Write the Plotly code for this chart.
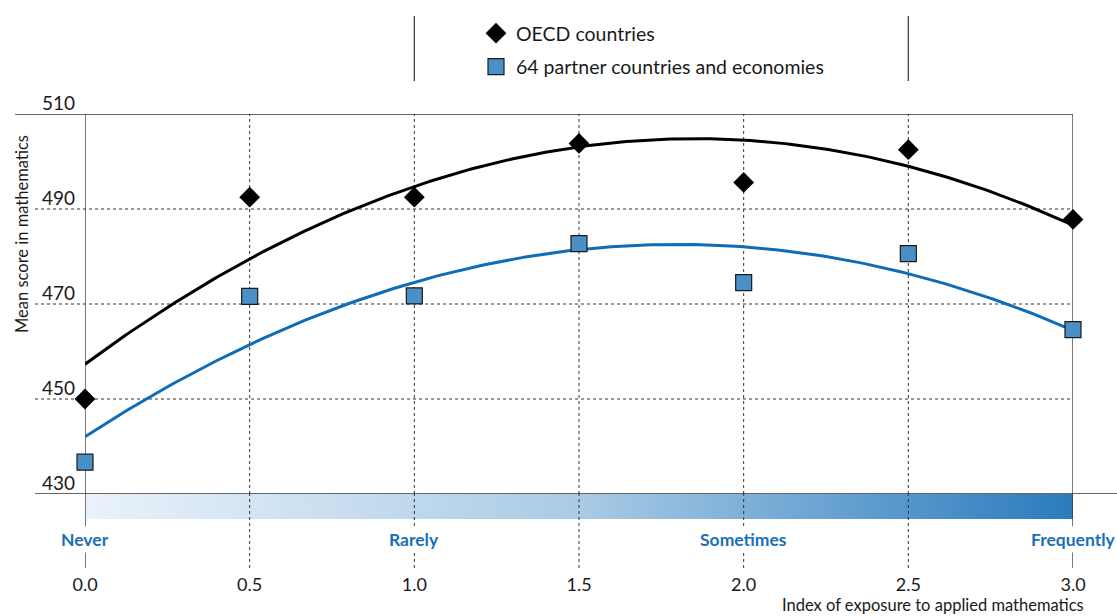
import numpy as np
import plotly.graph_objects as go

# Index of exposure to applied mathematics (x) and mean maths scores
exposure = [0.0, 0.5, 1.0, 1.5, 2.0, 2.5, 3.0]
oecd_scores = [450.0, 492.5, 492.5, 503.8, 495.6, 502.5, 487.8]
partner_scores = [436.7, 471.6, 471.7, 482.7, 474.5, 480.6, 464.6]

x_tick_vals = [0.0, 0.5, 1.0, 1.5, 2.0, 2.5, 3.0]
x_tick_text = ["0.0", "0.5", "1.0", "1.5", "2.0", "2.5", "3.0"]
y_tick_vals = [430, 450, 470, 490, 510]
frequency_labels = ["Never", "Rarely", "Sometimes", "Frequently"]
frequency_pos = [0.0, 1.0, 2.0, 3.0]

series_names = ["OECD countries", "64 partner countries and economies"]

FONT = "Lato"
TXT = "#1a1a1a"
GRID = "#333333"
BLUE_LINE = "#0f6cb6"
BLUE_FILL = "#4a90c6"
LABEL_BLUE = "#1a6fb5"

# canvas geometry (pixels)
W, H = 1117, 616
L, R, T, B = 85, 44, 114, 48
PH = H - T - B
PW = W - L - R


def py(p):
    return (H - B - p) / PH


def px(p):
    return (p - L) / PW


main_bottom = py(494)
bar_bottom = py(519)

# quadratic trend lines fitted to each series
grid_x = np.linspace(0, 3, 200)
oecd_fit = np.polyval(np.polyfit(exposure, oecd_scores, 2), grid_x)
partner_fit = np.polyval(np.polyfit(exposure, partner_scores, 2), grid_x)

fig = go.Figure()

# gradient band beneath the axis
fig.add_trace(go.Scatter(
    x=[0, 3, 3, 0, 0], y=[0, 0, 1, 1, 0], xaxis="x", yaxis="y2",
    mode="lines", line=dict(width=0), fill="toself",
    fillgradient=dict(type="horizontal", start=0, stop=3,
                      colorscale=[[0, "#eaf2fa"], [0.5, "#a9cbe6"], [1, "#2b7bbd"]]),
    showlegend=False, hoverinfo="skip",
))

fig.add_trace(go.Scatter(x=grid_x, y=oecd_fit, mode="lines",
                         line=dict(color="#000000", width=3),
                         showlegend=False, hoverinfo="skip"))
fig.add_trace(go.Scatter(x=grid_x, y=partner_fit, mode="lines",
                         line=dict(color=BLUE_LINE, width=3),
                         showlegend=False, hoverinfo="skip"))

fig.add_trace(go.Scatter(
    x=exposure, y=oecd_scores, mode="markers", name=series_names[0],
    legendgroup="a",
    marker=dict(symbol="diamond", size=16, color="#000000", line=dict(width=0)),
    cliponaxis=False,
))
fig.add_trace(go.Scatter(
    x=exposure, y=partner_scores, mode="markers", name=series_names[1],
    legendgroup="b",
    marker=dict(symbol="square", size=16, color=BLUE_FILL,
                line=dict(width=1.2, color="#1a1a1a")),
    cliponaxis=False,
))

shapes = []
# horizontal rules
shapes.append(dict(type="line", xref="paper", yref="y", x0=px(15), x1=1, y0=510, y1=510,
                   line=dict(color=GRID, width=1.3), layer="below"))
for v in [450, 470, 490]:
    shapes.append(dict(type="line", xref="paper", yref="y", x0=px(35), x1=1, y0=v, y1=v,
                       line=dict(color=GRID, width=1, dash="dot"), layer="below"))
shapes.append(dict(type="line", xref="paper", yref="y", x0=px(35), x1=px(W), y0=430, y1=430,
                   line=dict(color=GRID, width=1.3), layer="above"))

# vertical rules: solid at the ends, dotted in between
for v in x_tick_vals:
    solid = v in (0.0, 3.0)
    ln = dict(color=GRID, width=1.3 if solid else 1, dash="solid" if solid else "dot")
    shapes.append(dict(type="line", xref="x", yref="paper", x0=v, x1=v,
                       y0=main_bottom, y1=1, line=ln, layer="below"))
    shapes.append(dict(type="line", xref="x", yref="paper", x0=v, x1=v,
                       y0=0, y1=main_bottom, line=ln, layer="above"))

# legend brackets
for v in [1.0, 2.5]:
    shapes.append(dict(type="line", xref="x", yref="paper", x0=v, x1=v,
                       y0=py(81), y1=py(16), line=dict(color="#444444", width=1.3)))

annotations = []
for lab, pos in zip(frequency_labels, frequency_pos):
    annotations.append(dict(
        x=pos, y=py(539), xref="x", yref="paper", text="<b>%s</b>" % lab,
        showarrow=False, xanchor="center", yanchor="middle",
        font=dict(family=FONT, size=17.5, color=LABEL_BLUE),
        bgcolor="#ffffff", borderpad=2,
    ))
annotations.append(dict(
    x=px(22), y=py(234), xref="paper", yref="paper",
    text="Mean score in mathematics", textangle=-90, showarrow=False,
    xanchor="center", yanchor="middle", font=dict(family=FONT, size=16.5, color=TXT),
))
annotations.append(dict(
    x=px(1086), y=py(605), xref="paper", yref="paper",
    text="Index of exposure to applied mathematics", showarrow=False,
    xanchor="right", yanchor="middle", font=dict(family=FONT, size=16.5, color=TXT),
))

fig.update_layout(
    width=W, height=H,
    margin=dict(l=L, r=R, t=T, b=B),
    paper_bgcolor="#ffffff", plot_bgcolor="rgba(0,0,0,0)",
    font=dict(family=FONT, color=TXT),
    shapes=shapes, annotations=annotations,
    showlegend=True,
    legend=dict(x=px(476), y=py(14), xanchor="left", yanchor="top",
                font=dict(family=FONT, size=19.5, color=TXT),
                traceorder="grouped", tracegroupgap=5,
                bgcolor="rgba(0,0,0,0)"),
    xaxis=dict(range=[0, 3], anchor="free", position=0,
               tickvals=x_tick_vals, ticktext=x_tick_text,
               showgrid=False, zeroline=False, showline=False, ticks="",
               ticklabelstandoff=4,
               tickfont=dict(family=FONT, size=18, color=TXT)),
    yaxis=dict(range=[430, 510], domain=[main_bottom, 1],
               tickvals=y_tick_vals, ticktext=[str(v) for v in y_tick_vals],
               ticklabelposition="outside top", ticklabelstandoff=9,
               ticklabelshift=3,
               showgrid=False, zeroline=False, showline=False, ticks="",
               tickfont=dict(family=FONT, size=19, color=TXT)),
    yaxis2=dict(range=[0, 1], domain=[bar_bottom, main_bottom], anchor="x",
                showgrid=False, zeroline=False, showline=False,
                showticklabels=False, ticks=""),
    hovermode=False,
)

fig.write_html("out.html")
